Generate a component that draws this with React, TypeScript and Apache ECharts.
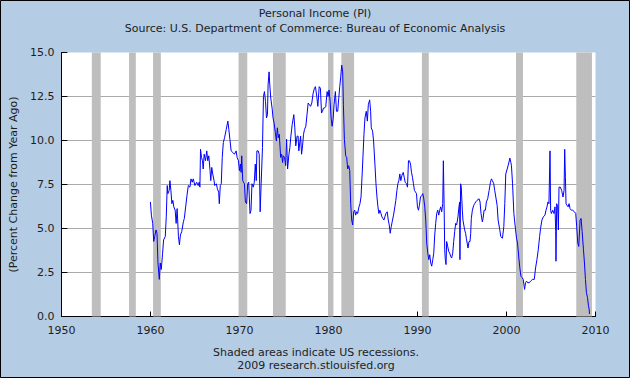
import React, { useEffect, useRef } from "react";
import * as echarts from "echarts";

const titleText = "Personal Income (PI)";
const subtitleText = "Source: U.S. Department of Commerce: Bureau of Economic Analysis";
const yAxisTitle = "(Percent Change from Year Ago)";
const footer1 = "Shaded areas indicate US recessions.";
const footer2 = "2009 research.stlouisfed.org";

const yTicks = [0, 2.5, 5, 7.5, 10, 12.5, 15];
const xTicks = [1950, 1960, 1970, 1980, 1990, 2000, 2010];

// recession periods [start, end] (decimal years)
const recessions: [number, number][] = [
  [1953.42, 1954.42],
  [1957.6, 1958.36],
  [1960.3, 1961.17],
  [1969.9, 1970.88],
  [1973.77, 1975.2],
  [1979.95, 1980.56],
  [1981.45, 1982.88],
  [1990.5, 1991.27],
  [2001.07, 2001.85],
  [2007.84, 2009.6],
];

const pi1960s: [number, number][] = [
  [1960.0, 6.51], [1960.11, 5.76], [1960.26, 5.29], [1960.37, 4.26], [1960.48, 4.54], [1960.63, 4.92], [1960.74, 4.73], [1960.85, 3.04], [1961.0, 2.11], [1961.11, 3.04], [1961.22, 2.67], [1961.37, 3.6], [1961.48, 4.35], [1961.67, 4.54], [1961.78, 5.66], [1961.89, 7.44], [1961.96, 6.98], [1962.11, 7.16], [1962.19, 7.72], [1962.3, 7.16], [1962.41, 6.41], [1962.52, 6.6], [1962.63, 6.23], [1962.78, 6.04], [1962.89, 5.29], [1963.0, 6.13], [1963.15, 4.54], [1963.26, 4.07], [1963.37, 4.63], [1963.52, 4.82], [1963.7, 5.38], [1963.81, 5.57], [1963.96, 6.23], [1964.11, 6.88], [1964.26, 7.44], [1964.44, 7.35], [1964.56, 7.82], [1964.7, 7.63], [1964.81, 7.82], [1965.0, 7.44], [1965.19, 7.63], [1965.37, 7.44], [1965.48, 7.63], [1965.56, 7.35], [1965.63, 9.5], [1965.74, 9.04], [1965.85, 8.85], [1965.93, 8.38], [1966.04, 9.22], [1966.19, 8.85], [1966.33, 9.41], [1966.44, 8.85], [1966.56, 9.13], [1966.7, 8.29], [1966.78, 7.72], [1966.89, 8.47], [1967.0, 8.1], [1967.15, 7.72], [1967.22, 7.44], [1967.41, 7.54], [1967.52, 7.26], [1967.67, 7.07], [1967.74, 6.41], [1967.85, 7.44], [1967.96, 7.54], [1968.07, 9.04], [1968.19, 9.88], [1968.33, 10.16], [1968.52, 10.63], [1968.7, 11.1], [1968.81, 10.63], [1968.93, 10.07], [1969.07, 9.41], [1969.26, 9.32], [1969.44, 9.22], [1969.63, 9.41], [1969.74, 9.04], [1969.89, 8.85],
];

const pi1970s: [number, number][] = [
  [1970.0, 8.29], [1970.11, 8.66], [1970.19, 8.19], [1970.26, 9.13], [1970.37, 7.72], [1970.56, 7.54], [1970.67, 6.51], [1970.81, 6.41], [1970.93, 7.54], [1971.04, 7.63], [1971.19, 5.85], [1971.3, 6.04], [1971.41, 7.54], [1971.56, 7.35], [1971.67, 7.63], [1971.78, 8.66], [1971.89, 7.72], [1971.96, 9.41], [1972.11, 9.41], [1972.22, 9.22], [1972.33, 5.95], [1972.44, 7.54], [1972.59, 9.6], [1972.7, 12.5], [1972.81, 12.78], [1972.93, 12.22], [1973.04, 11.28], [1973.15, 11.47], [1973.22, 13.16], [1973.33, 13.9], [1973.41, 13.16], [1973.52, 12.41], [1973.67, 11.84], [1973.78, 11.28], [1973.89, 11.0], [1974.04, 10.44], [1974.15, 9.97], [1974.26, 10.72], [1974.37, 10.16], [1974.48, 10.35], [1974.63, 9.04], [1974.74, 9.22], [1974.85, 8.75], [1974.93, 9.13], [1975.07, 9.04], [1975.19, 8.57], [1975.3, 10.07], [1975.41, 8.38], [1975.56, 9.22], [1975.67, 9.6], [1975.78, 10.25], [1975.93, 10.91], [1976.11, 11.47], [1976.22, 10.72], [1976.33, 9.69], [1976.48, 10.25], [1976.59, 10.25], [1976.67, 9.41], [1976.87, 10.25], [1976.98, 9.22], [1977.09, 9.69], [1977.2, 10.35], [1977.31, 10.63], [1977.46, 10.81], [1977.61, 11.56], [1977.72, 12.13], [1977.87, 12.03], [1977.99, 11.94], [1978.13, 12.13], [1978.28, 12.69], [1978.43, 12.97], [1978.54, 13.06], [1978.69, 12.5], [1978.81, 11.94], [1978.96, 13.06], [1979.1, 12.97], [1979.22, 11.56], [1979.33, 11.66], [1979.44, 11.84], [1979.55, 11.84], [1979.7, 11.94], [1979.85, 12.78], [1979.96, 12.5],
];

const pi1980s: [number, number][] = [
  [1980.07, 12.87], [1980.19, 12.22], [1980.3, 11.28], [1980.41, 10.81], [1980.52, 11.19], [1980.63, 12.03], [1980.78, 12.78], [1980.9, 11.66], [1981.04, 11.66], [1981.16, 12.41], [1981.27, 13.06], [1981.38, 13.62], [1981.49, 14.28], [1981.6, 13.9], [1981.68, 12.03], [1981.79, 10.07], [1981.94, 9.13], [1982.05, 9.04], [1982.16, 8.38], [1982.28, 8.57], [1982.39, 8.29], [1982.5, 6.41], [1982.61, 5.48], [1982.72, 5.2], [1982.84, 5.95], [1982.95, 6.04], [1983.06, 5.76], [1983.17, 5.95], [1983.28, 5.85], [1983.43, 6.23], [1983.54, 6.41], [1983.66, 6.79], [1983.77, 7.91], [1983.88, 9.13], [1983.99, 10.35], [1984.1, 11.28], [1984.25, 11.66], [1984.37, 11.1], [1984.48, 12.03], [1984.63, 12.31], [1984.74, 11.66], [1984.81, 10.72], [1984.96, 10.53], [1985.07, 9.97], [1985.22, 8.66], [1985.34, 7.54], [1985.45, 6.79], [1985.56, 6.23], [1985.67, 5.85], [1985.78, 6.04], [1985.9, 5.85], [1986.01, 5.66], [1986.12, 5.57], [1986.23, 5.48], [1986.34, 5.66], [1986.46, 5.85], [1986.6, 5.95], [1986.72, 5.48], [1986.83, 5.2], [1986.94, 4.73], [1987.05, 5.1], [1987.16, 5.38], [1987.31, 5.76], [1987.46, 6.23], [1987.57, 6.6], [1987.69, 7.16], [1987.8, 7.54], [1987.91, 7.72], [1988.02, 8.1], [1988.13, 7.72], [1988.25, 8.01], [1988.4, 8.19], [1988.51, 7.91], [1988.62, 7.63], [1988.77, 7.54], [1988.88, 7.35], [1988.99, 8.85], [1989.1, 8.85], [1989.22, 8.66], [1989.33, 8.19], [1989.44, 7.91], [1989.55, 7.54], [1989.66, 7.16], [1989.78, 7.07], [1989.89, 6.98],
];

const pi1990s: [number, number][] = [
  [1990.0, 6.23], [1990.11, 6.04], [1990.22, 6.32], [1990.34, 6.79], [1990.49, 6.88], [1990.6, 6.98], [1990.71, 6.69], [1990.82, 6.23], [1990.93, 5.48], [1991.04, 4.17], [1991.16, 3.6], [1991.27, 3.23], [1991.38, 3.51], [1991.49, 3.04], [1991.6, 2.86], [1991.72, 3.23], [1991.83, 3.6], [1991.94, 4.63], [1992.05, 5.29], [1992.16, 5.85], [1992.28, 6.04], [1992.39, 5.76], [1992.5, 6.04], [1992.61, 6.23], [1992.72, 5.95], [1992.84, 6.41], [1992.91, 8.85], [1992.99, 6.41], [1993.06, 3.79], [1993.13, 3.23], [1993.21, 2.95], [1993.28, 4.26], [1993.4, 3.98], [1993.51, 3.7], [1993.62, 3.6], [1993.73, 3.42], [1993.84, 3.32], [1993.96, 3.6], [1994.07, 4.26], [1994.18, 4.82], [1994.29, 5.29], [1994.4, 5.2], [1994.55, 5.66], [1994.66, 6.23], [1994.74, 6.51], [1994.77, 3.23], [1994.85, 7.54], [1994.92, 7.35], [1995.04, 6.04], [1995.11, 5.48], [1995.3, 4.92], [1995.41, 4.73], [1995.49, 4.45], [1995.68, 3.89], [1995.79, 4.26], [1995.9, 4.26], [1995.98, 4.73], [1996.05, 5.57], [1996.17, 6.04], [1996.32, 6.32], [1996.43, 6.41], [1996.54, 6.51], [1996.69, 6.6], [1996.92, 6.69], [1997.03, 6.51], [1997.14, 5.85], [1997.29, 5.38], [1997.37, 5.57], [1997.48, 6.04], [1997.63, 6.04], [1997.74, 6.51], [1997.89, 6.69], [1998.05, 7.16], [1998.2, 7.63], [1998.31, 7.82], [1998.42, 7.72], [1998.57, 7.54], [1998.68, 7.16], [1998.8, 6.79], [1998.95, 6.32], [1999.06, 5.48], [1999.25, 4.92], [1999.36, 4.54], [1999.55, 4.45], [1999.7, 5.1], [1999.81, 6.41], [1999.92, 8.1],
];

const pi2000s: [number, number][] = [
  [2000.08, 8.38], [2000.23, 8.66], [2000.38, 9.0], [2000.49, 8.75], [2000.56, 8.57], [2000.68, 7.54], [2000.83, 5.85], [2001.02, 4.92], [2001.13, 4.45], [2001.24, 4.17], [2001.39, 3.32], [2001.5, 2.76], [2001.62, 2.29], [2001.77, 2.2], [2001.88, 2.11], [2002.03, 1.54], [2002.14, 1.92], [2002.26, 2.01], [2002.37, 1.92], [2002.56, 1.92], [2002.71, 2.01], [2002.93, 2.11], [2003.12, 2.11], [2003.27, 2.76], [2003.42, 3.23], [2003.57, 3.79], [2003.72, 4.54], [2003.83, 5.01], [2003.98, 5.48], [2004.14, 5.66], [2004.32, 5.76], [2004.44, 6.04], [2004.55, 6.23], [2004.66, 6.51], [2004.77, 6.41], [2004.89, 9.41], [2004.96, 6.04], [2005.04, 5.85], [2005.19, 6.04], [2005.34, 5.85], [2005.45, 6.23], [2005.53, 4.82], [2005.56, 3.14], [2005.64, 6.41], [2005.75, 6.23], [2005.83, 4.92], [2005.9, 7.35], [2006.05, 7.35], [2006.2, 7.16], [2006.35, 6.79], [2006.47, 7.16], [2006.54, 9.5], [2006.62, 7.91], [2006.69, 6.41], [2006.8, 6.32], [2006.92, 6.23], [2007.03, 6.41], [2007.14, 6.13], [2007.29, 6.04], [2007.44, 6.04], [2007.63, 5.95], [2007.78, 5.85], [2007.89, 5.1], [2008.01, 4.17], [2008.12, 3.98], [2008.27, 5.48], [2008.38, 5.57], [2008.5, 4.82], [2008.65, 3.79], [2008.76, 3.04], [2008.87, 2.11], [2008.98, 1.36], [2009.1, 1.08], [2009.21, 0.61], [2009.29, 0.42], [2009.32, 0.14],
];

const FONT = "DejaVu Sans, Verdana, sans-serif";
const TXT = "#1e1e1e";

export default function App() {
  const ref = useRef<HTMLDivElement>(null);
  useEffect(() => {
    if (!ref.current) return;
    const chart = echarts.init(ref.current, null, { renderer: "svg" });
    const lineData = [...pi1960s, ...pi1970s, ...pi1980s, ...pi1990s, ...pi2000s];
    chart.setOption({
      animation: false,
      backgroundColor: "#b4cce4",
      grid: {
        left: 59.5,
        right: 34.5,
        top: 52.5,
        bottom: 61.5,
        show: true,
        backgroundColor: "#ffffff",
        borderWidth: 0,
      },
      xAxis: {
        type: "value",
        min: xTicks[0],
        max: xTicks[xTicks.length - 1],
        interval: 10,
        axisLine: { show: true, lineStyle: { color: "#000", width: 1 } },
        axisTick: { show: true, inside: true, length: 5, lineStyle: { color: "#000" } },
        axisLabel: {
          color: TXT,
          fontFamily: FONT,
          fontSize: 11,
          margin: 8,
          formatter: (v: number) => String(v),
        },
        splitLine: { show: false },
      },
      yAxis: {
        type: "value",
        min: yTicks[0],
        max: yTicks[yTicks.length - 1],
        interval: 2.5,
        name: yAxisTitle,
        nameLocation: "middle",
        nameRotate: 90,
        nameGap: 37,
        nameTextStyle: { color: TXT, fontFamily: FONT, fontSize: 11 },
        axisLine: { show: true, lineStyle: { color: "#000", width: 1 } },
        axisTick: { show: true, inside: true, length: 6, lineStyle: { color: "#000" } },
        axisLabel: {
          color: TXT,
          fontFamily: FONT,
          fontSize: 11,
          margin: 7,
          formatter: (v: number) => v.toFixed(1),
        },
        splitLine: {
          show: true,
          showMinLine: false,
          showMaxLine: false,
          lineStyle: { color: "#aaaaaa", width: 1 },
        },
      },
      series: [
        {
          type: "line",
          data: lineData,
          showSymbol: false,
          symbol: "none",
          z: 3,
          lineStyle: { color: "#0000ff", width: 1 },
          markArea: {
            silent: true,
            itemStyle: { color: "#bebebe", opacity: 1 },
            label: { show: false },
            data: recessions.map(([a, b]) => [{ xAxis: a }, { xAxis: b }]),
          },
        },
      ],
      graphic: [
        {
          type: "text",
          x: 315,
          y: 13,
          style: { text: titleText, fill: TXT, font: `11px ${FONT}`, textAlign: "center", textVerticalAlign: "middle" },
        },
        {
          type: "text",
          x: 315,
          y: 28,
          style: { text: subtitleText, fill: TXT, font: `11px ${FONT}`, textAlign: "center", textVerticalAlign: "middle" },
        },
        {
          type: "text",
          x: 316,
          y: 352,
          style: { text: footer1, fill: TXT, font: `11px ${FONT}`, textAlign: "center", textVerticalAlign: "middle" },
        },
        {
          type: "text",
          x: 316,
          y: 365,
          style: { text: footer2, fill: TXT, font: `11px ${FONT}`, textAlign: "center", textVerticalAlign: "middle" },
        },
        {
          type: "rect",
          shape: { x: 0.5, y: 0.5, width: 629, height: 377 },
          style: { fill: "none", stroke: "#000", lineWidth: 1 },
          silent: true,
        },
      ],
    });
    return () => chart.dispose();
  }, []);
  return (
    <div
      ref={ref}
      style={{ position: "fixed", left: 0, top: 0, width: 630, height: 378 }}
    />
  );
}
